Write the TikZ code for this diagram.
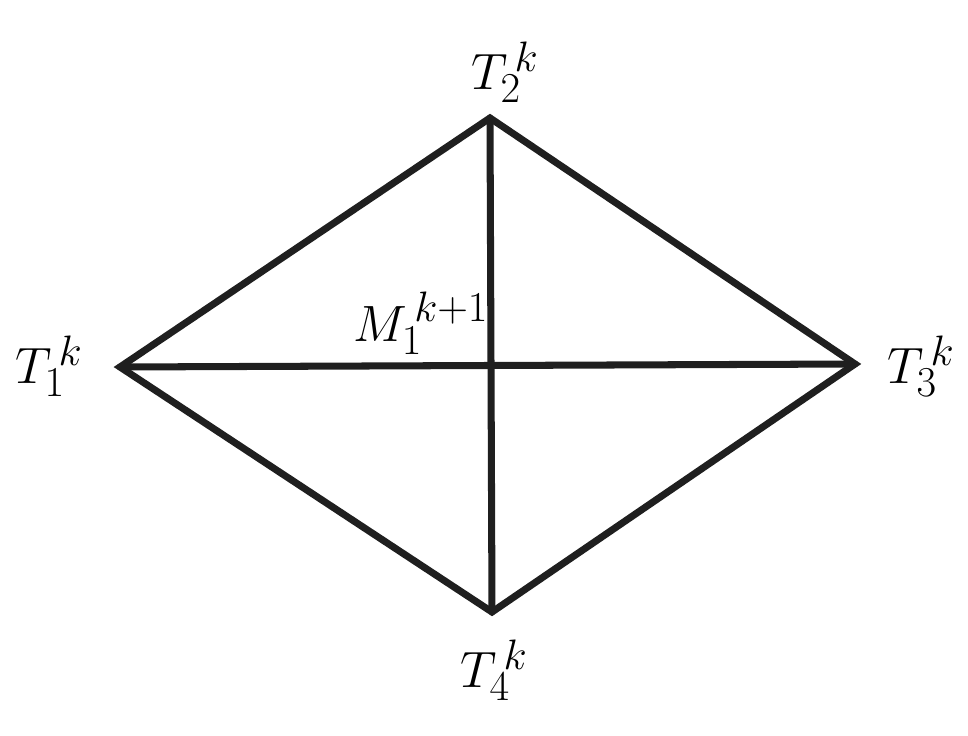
\documentclass[tikz,border=0pt]{standalone}
\begin{document}
\begin{tikzpicture}[x=0.025cm,y=-0.025cm,
  edge/.style={line width=5pt,draw=black!88,line join=miter,line cap=round},
  lbl/.style={inner sep=0pt,font=\Huge,scale=1.46}]
\useasboundingbox (0,0) rectangle (968,736);
\coordinate (t1) at (120,367);
\coordinate (t2) at (490,118);
\coordinate (t3) at (855,364);
\coordinate (t4) at (492,612);
\coordinate (m) at (491,366);
\draw[edge] (t1) -- (t2) -- (t3) -- (t4) -- cycle;
\draw[edge] (t1) -- (t3);
\draw[edge] (t2) -- (t4);
\node[lbl] (l1) at (49,366) {$T_1^{\,k}$};
\node[lbl] (l2) at (505,72) {$T_2^{\,k}$};
\node[lbl] (l3) at (921,366) {$T_3^{\,k}$};
\node[lbl] (l4) at (494,670) {$T_4^{\,k}$};
\node[lbl] (lm) at (421,323) {$M_1^{\,k+1}$};
\end{tikzpicture}
\end{document}
